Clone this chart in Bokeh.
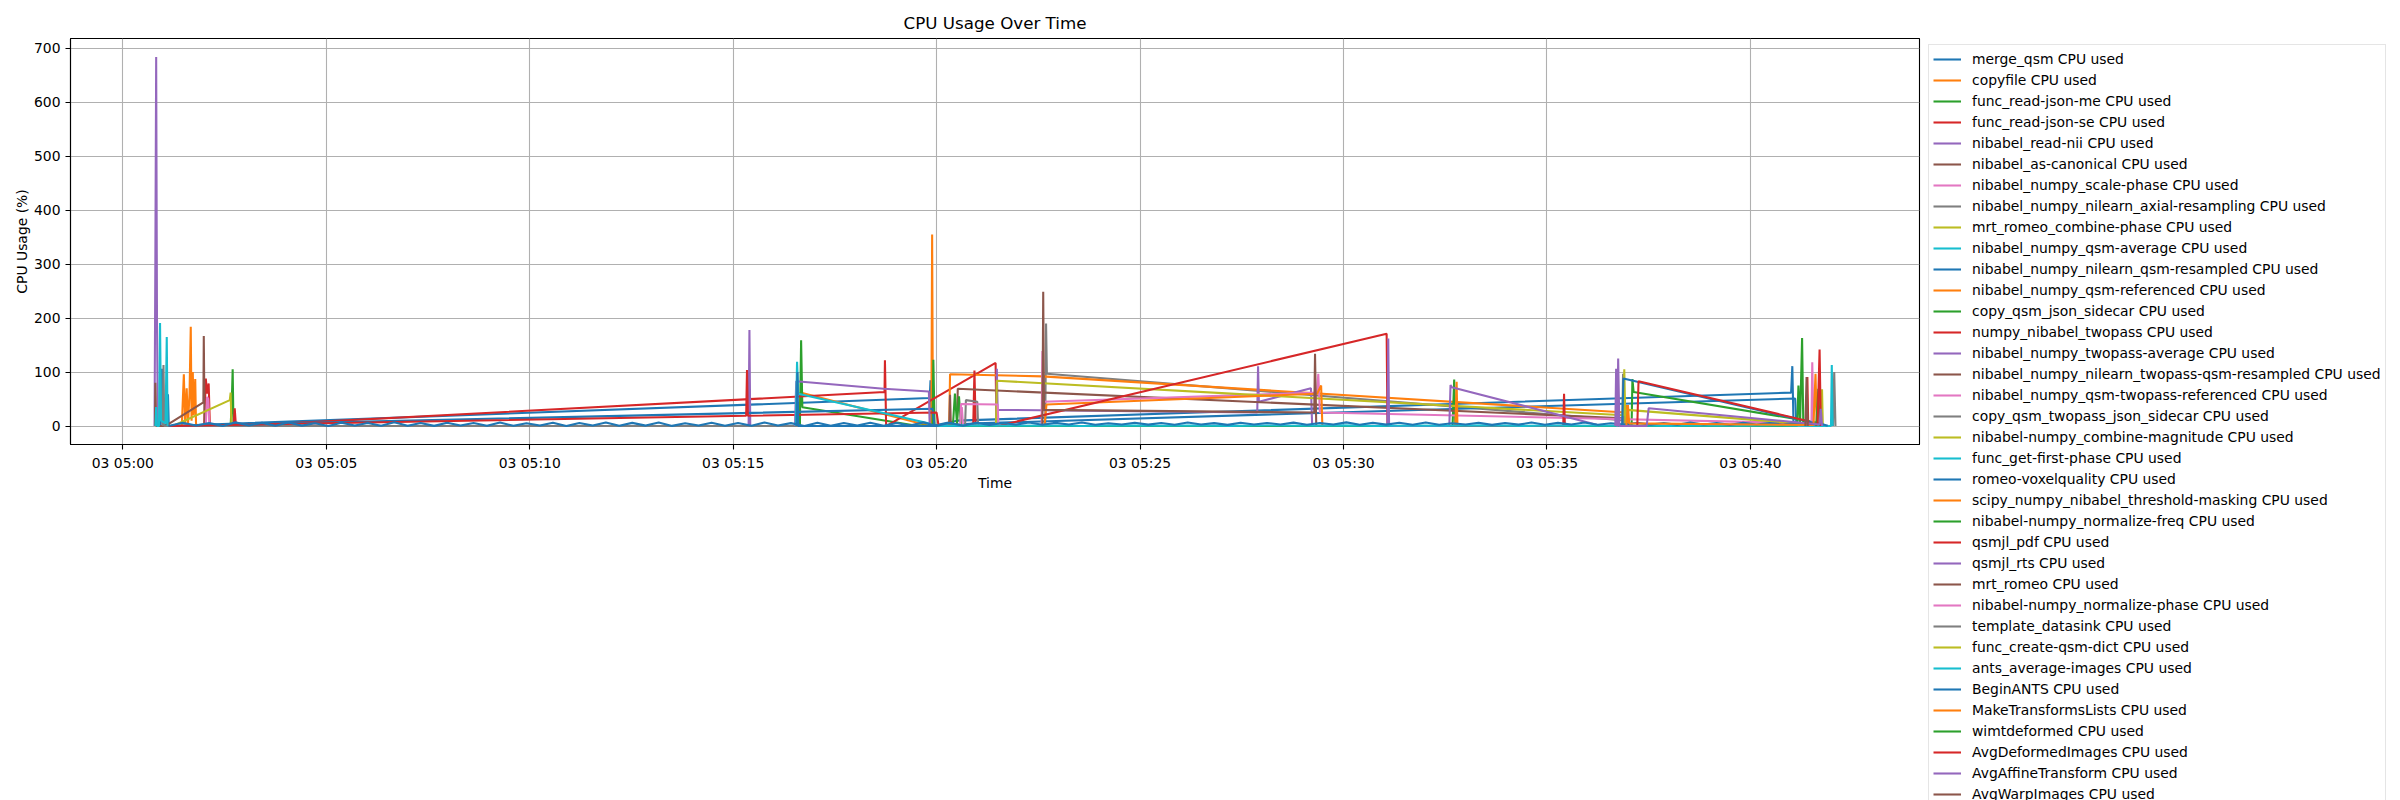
import pandas as pd
from bokeh.plotting import figure
from bokeh.layouts import row, column
from bokeh.models import (Range1d, Legend, LegendItem, FixedTicker,
                          DatetimeTickFormatter, ColumnDataSource)
from bokeh.embed import file_html
from bokeh.resources import INLINE

# ---------------- data ----------------
start_time = "2024-01-03 05:00:00"          # times below are minutes after this
x_tick_times = ["05:00", "05:05", "05:10", "05:15", "05:20",
                "05:25", "05:30", "05:35", "05:40"]
y_ticks = [0, 100, 200, 300, 400, 500, 600, 700]

names = [
    "merge_qsm CPU used", "copyfile CPU used", "func_read-json-me CPU used",
    "func_read-json-se CPU used", "nibabel_read-nii CPU used",
    "nibabel_as-canonical CPU used", "nibabel_numpy_scale-phase CPU used",
    "nibabel_numpy_nilearn_axial-resampling CPU used",
    "mrt_romeo_combine-phase CPU used", "nibabel_numpy_qsm-average CPU used",
    "nibabel_numpy_nilearn_qsm-resampled CPU used",
    "nibabel_numpy_qsm-referenced CPU used", "copy_qsm_json_sidecar CPU used",
    "numpy_nibabel_twopass CPU used", "nibabel_numpy_twopass-average CPU used",
    "nibabel_numpy_nilearn_twopass-qsm-resampled CPU used",
    "nibabel_numpy_qsm-twopass-referenced CPU used",
    "copy_qsm_twopass_json_sidecar CPU used",
    "nibabel-numpy_combine-magnitude CPU used", "func_get-first-phase CPU used",
    "romeo-voxelquality CPU used",
    "scipy_numpy_nibabel_threshold-masking CPU used",
    "nibabel-numpy_normalize-freq CPU used", "qsmjl_pdf CPU used",
    "qsmjl_rts CPU used", "mrt_romeo CPU used",
    "nibabel-numpy_normalize-phase CPU used", "template_datasink CPU used",
    "func_create-qsm-dict CPU used", "ants_average-images CPU used",
    "BeginANTS CPU used", "MakeTransformsLists CPU used",
    "wimtdeformed CPU used", "AvgDeformedImages CPU used",
    "AvgAffineTransform CPU used", "AvgWarpImages CPU used",
]

merge_qsm_t = [0.93, 0.96, 0.99, 1.09, 1.11, 1.13, 19.83, 19.85, 19.88, 20.5, 41.0, 41.03, 41.06]
merge_qsm_v = [0, 106, 2, 3, 59, 0, 52, 85, 0, 10, 62, 111, 0]

copyfile_t = [1.45, 1.5, 1.53, 1.57, 1.6, 1.64, 1.67, 1.69, 1.72, 1.74, 1.78, 1.8,
              16.62, 16.65, 19.75, 19.87, 19.89, 19.91]
copyfile_v = [0, 96, 5, 70, 0, 60, 184, 10, 100, 20, 87, 0, 0, 62, 2, 0, 355, 0]

json_me_t = [2.65, 2.68, 2.7, 2.72, 16.64, 16.67, 16.7, 19.4, 19.9, 19.92, 19.95]
json_me_v = [0, 50, 105, 0, 0, 159, 35, 2, 0, 123, 0]

json_se_t = [2.0, 2.04, 2.07, 2.11, 2.14, 2.72, 2.75, 2.78, 18.72, 18.73, 18.76, 21.45, 21.47]
json_se_v = [0, 88, 60, 79, 0, 0, 33, 0, 63, 122, 0, 117, 0]

read_nii_t = [0.78, 0.8, 0.82, 0.84, 0.86, 15.38, 15.4, 15.42]
read_nii_v = [0, 310, 684, 200, 0, 0, 178, 0]

as_canonical_t = [0.79, 0.8, 0.82, 1.04, 1.98, 1.99, 2.01]
as_canonical_v = [0, 80, 0, 0, 44, 167, 0]

scale_phase_t = [2.04, 2.07, 2.1, 2.13]
scale_phase_v = [0, 54, 50, 0]

axial_resampling_t = [0.98, 1.0, 1.02, 22.67, 22.69, 22.71, 37.0, 37.02]
axial_resampling_v = [0, 113, 0, 0, 190, 97, 10, 0]

combine_phase_t = [1.23, 2.63, 2.65, 2.67]
combine_phase_v = [0, 48, 62, 0]

qsm_average_t = [0.8, 0.82, 0.84, 0.89, 0.915, 0.94, 1.05, 1.08, 1.1]
qsm_average_v = [0, 35, 0, 0, 191, 10, 5, 165, 0]

qsm_resampled_t = [1.12, 19.9, 19.95, 21.0, 41.1, 41.13]
qsm_resampled_v = [0, 32, 0, 5, 51, 0]

qsm_referenced_t = [20.31, 20.33, 22.6, 36.93, 36.95, 36.97]
qsm_referenced_v = [0, 96, 92, 25, 39, 0]

json_sidecar_t = [32.68, 32.72, 32.75, 37.08, 37.1, 37.13, 41.6, 41.65]
json_sidecar_v = [0, 86, 0, 0, 87, 63, 7, 0]

twopass_t = [1.15, 15.32, 15.34, 15.36, 20.0, 20.05, 20.9, 20.93, 20.96]
twopass_v = [0, 19, 104, 19, 25, 0, 0, 103, 0]

twopass_average_t = [16.52, 16.55, 18.7, 19.81, 19.83, 21.46, 21.48, 21.5,
                     27.88, 27.9, 27.92, 29.2, 29.23]
twopass_average_v = [0, 83, 69, 64, 0, 0, 106, 30, 25, 111, 45, 70, 0]

twopass_resampled_t = [20.31, 20.33, 20.35, 20.5, 20.52, 37.0, 37.03]
twopass_resampled_v = [0, 58, 0, 0, 69, 14, 0]

twopass_referenced_t = [20.6, 20.62, 20.65, 22.58, 22.6, 22.63, 29.35, 29.38, 29.42,
                        41.5, 41.52, 41.55]
twopass_referenced_v = [0, 35, 0, 0, 139, 45, 62, 97, 25, 5, 118, 0]

twopass_sidecar_t = [20.7, 20.72, 21.0, 21.02, 36.85, 36.87, 36.9]
twopass_sidecar_v = [0, 48, 45, 0, 0, 97, 0]

combine_magnitude_t = [21.46, 21.48, 36.88, 36.9, 36.93]
combine_magnitude_v = [0, 84, 20, 105, 0]

first_phase_t = [16.54, 16.57, 16.6, 19.8, 19.83]
first_phase_v = [0, 119, 60, 5, 0]

voxelquality_t = [16.56, 16.58, 16.6, 36.85, 36.88, 41.6, 41.7]
voxelquality_v = [0, 100, 0, 0, 88, 5, 0]

threshold_masking_t = [22.65, 22.7, 29.35, 29.45, 29.48, 32.75, 32.78, 32.8]
threshold_masking_v = [0, 40, 60, 75, 0, 0, 82, 0]

normalize_freq_t = [20.4, 20.45, 20.5, 20.55, 20.6, 41.15, 41.18, 41.22, 41.27, 41.3]
normalize_freq_v = [0, 60, 5, 55, 0, 0, 75, 5, 163, 0]

qsmjl_pdf_t = [21.5, 31.06, 31.08, 35.4, 35.42, 35.44]
qsmjl_pdf_v = [0, 171, 0, 0, 60, 0]

qsmjl_rts_t = [31.08, 31.1, 31.12, 32.6, 32.63, 32.66, 36.2, 36.25]
qsmjl_rts_v = [0, 162, 0, 0, 76, 72, 3, 0]

mrt_romeo_t = [22.6, 22.62, 22.64, 29.28, 29.3, 29.33]
mrt_romeo_v = [0, 249, 30, 25, 134, 0]

normalize_phase_t = [20.58, 20.6, 21.5, 21.52]
normalize_phase_v = [0, 41, 40, 0]

datasink_t = [42.03, 42.06, 42.09]
datasink_v = [0, 100, 0]

create_qsm_dict_t = [36.95, 36.97, 41.7, 41.76, 41.78]
create_qsm_dict_v = [0, 30, 2, 68, 0]

ants_average_t = [20.0, 20.9, 21.8, 22.7, 23.6, 24.5, 25.4, 26.3, 27.2, 28.1,
                  29.0, 29.9, 30.8, 31.7, 32.6, 33.5, 34.4, 35.3, 36.2, 37.1,
                  38.0, 38.9, 39.8, 40.7, 41.6, 41.98, 42.0, 42.02]
ants_average_v = [0.3, 1.2, 0.4, 1.0, 0.2, 1.3, 0.5, 0.9, 0.3, 1.1,
                  0.4, 1.2, 0.2, 1.0, 0.5, 1.3, 0.3, 0.9, 0.4, 1.1,
                  0.2, 1.2, 0.5, 1.0, 0.3, 0.0, 113, 0.0]

begin_ants_t = [1.15, 1.47, 1.8, 2.12, 2.45, 2.77, 3.1, 3.42, 3.75, 4.07, 4.4, 4.72, 5.05, 5.37, 5.7, 6.02,
                6.35, 6.67, 7.0, 7.32, 7.65, 7.97, 8.3, 8.62, 8.95, 9.27, 9.6, 9.92, 10.25, 10.57, 10.9, 11.22,
                11.55, 11.87, 12.2, 12.52, 12.85, 13.17, 13.5, 13.82, 14.15, 14.47, 14.8, 15.12, 15.45, 15.77, 16.1, 16.42,
                16.75, 17.07, 17.4, 17.72, 18.05, 18.37, 18.7, 19.02, 19.35, 19.67, 20.0, 20.32, 20.65, 20.97, 21.3, 21.62,
                21.95, 22.27, 22.6, 22.92, 23.25, 23.57, 23.9, 24.22, 24.55, 24.87, 25.2, 25.52, 25.85, 26.17, 26.5, 26.82,
                27.15, 27.47, 27.8, 28.12, 28.45, 28.77, 29.1, 29.42, 29.75, 30.07, 30.4, 30.72, 31.05, 31.37, 31.7, 32.02,
                32.35, 32.67, 33.0, 33.32, 33.65, 33.97, 34.3, 34.62, 34.95, 35.27, 35.6, 35.92, 36.25, 36.57, 36.9, 37.22,
                37.55, 37.87, 38.2, 38.52, 38.85, 39.17, 39.5, 39.82, 40.15, 40.47, 40.8, 41.12, 41.45, 41.67, 41.9]
begin_ants_v = [0.6, 6.2, 0.9, 5.4, 0.3, 6.8, 1.1, 5.9, 0.4, 6.5, 0.8, 5.2, 0.2, 6.1, 1.0, 5.7,
                0.5, 6.9, 0.7, 5.5, 0.3, 6.3, 1.2, 5.8, 0.6, 6.6, 0.4, 5.3, 0.9, 6.0, 0.2, 5.6,
                1.0, 6.4, 0.5, 5.9, 0.8, 6.7, 0.3, 5.1, 1.1, 6.2, 0.6, 5.8, 0.4, 6.5, 0.9, 5.4,
                0.2, 6.0, 0.7, 5.7, 1.0, 6.3, 0.5, 5.5, 0.8, 6.8, 0.3, 5.9, 0.6, 6.1, 2.2, 5.6,
                2.6, 6.4, 2.5, 5.9, 2.8, 6.7, 2.3, 5.1, 2.7, 6.2, 2.6, 5.8, 2.4, 6.5, 2.9, 5.4,
                2.2, 6.0, 2.7, 5.7, 3.0, 6.3, 2.5, 5.5, 2.8, 6.8, 2.3, 5.9, 2.6, 6.1, 2.4, 6.6,
                2.5, 5.3, 2.9, 6.0, 2.2, 5.6, 2.6, 6.4, 2.5, 5.9, 2.8, 6.7, 2.3, 5.1, 2.7, 6.2,
                2.6, 5.8, 2.4, 6.5, 2.9, 5.4, 2.2, 6.0, 2.7, 5.7, 3.0, 6.3, 2.5, 5.5, 0.5]

make_transforms_t = [36.95, 36.99, 37.02, 41.55, 41.6, 41.63]
make_transforms_v = [0, 39, 5, 2, 97, 0]

wimtdeformed_t = [41.62, 41.67, 41.7]
wimtdeformed_v = [0, 69, 0]

avg_deformed_t = [37.22, 37.25, 41.38, 41.4, 41.42, 41.65, 41.7, 41.73]
avg_deformed_v = [0, 83, 10, 91, 5, 3, 142, 0]

avg_affine_t = [36.68, 36.7, 36.72, 36.73, 36.75, 36.78, 37.45, 37.5, 41.7, 41.73, 41.76]
avg_affine_v = [0, 106, 0, 0, 125, 0, 0, 33, 3, 32, 0]

avg_warp_t = [41.35, 41.38, 41.41]
avg_warp_v = [0, 91, 0]

series = [
    (merge_qsm_t, merge_qsm_v), (copyfile_t, copyfile_v), (json_me_t, json_me_v),
    (json_se_t, json_se_v), (read_nii_t, read_nii_v), (as_canonical_t, as_canonical_v),
    (scale_phase_t, scale_phase_v), (axial_resampling_t, axial_resampling_v),
    (combine_phase_t, combine_phase_v), (qsm_average_t, qsm_average_v),
    (qsm_resampled_t, qsm_resampled_v), (qsm_referenced_t, qsm_referenced_v),
    (json_sidecar_t, json_sidecar_v), (twopass_t, twopass_v),
    (twopass_average_t, twopass_average_v), (twopass_resampled_t, twopass_resampled_v),
    (twopass_referenced_t, twopass_referenced_v), (twopass_sidecar_t, twopass_sidecar_v),
    (combine_magnitude_t, combine_magnitude_v), (first_phase_t, first_phase_v),
    (voxelquality_t, voxelquality_v), (threshold_masking_t, threshold_masking_v),
    (normalize_freq_t, normalize_freq_v), (qsmjl_pdf_t, qsmjl_pdf_v),
    (qsmjl_rts_t, qsmjl_rts_v), (mrt_romeo_t, mrt_romeo_v),
    (normalize_phase_t, normalize_phase_v), (datasink_t, datasink_v),
    (create_qsm_dict_t, create_qsm_dict_v), (ants_average_t, ants_average_v),
    (begin_ants_t, begin_ants_v), (make_transforms_t, make_transforms_v),
    (wimtdeformed_t, wimtdeformed_v), (avg_deformed_t, avg_deformed_v),
    (avg_affine_t, avg_affine_v), (avg_warp_t, avg_warp_v),
]

palette = ["#1f77b4", "#ff7f0e", "#2ca02c", "#d62728", "#9467bd",
           "#8c564b", "#e377c2", "#7f7f7f", "#bcbd22", "#17becf"]

# ---------------- figure ----------------
base = pd.Timestamp(start_time)
day = start_time.split(" ")[0]


def to_time(mins):
    return [base + pd.Timedelta(minutes=m) for m in mins]


all_t = [m for t, _ in series for m in t]
all_v = [y for _, v in series for y in v]
t_lo, t_hi = min(all_t), max(all_t)
t_pad = 0.05 * (t_hi - t_lo)
v_lo, v_hi = min(all_v), max(all_v)
v_pad = 0.05 * (v_hi - v_lo)

W, H = 2400, 800
MAIN_W = 1928                      # frame spans 70..1919, legend panel to the right
B_LEFT, B_RIGHT, B_TOP, B_BOTTOM = 70, 9, 38, 356

font = "DejaVu Sans"
p = figure(width=MAIN_W, height=H, x_axis_type="datetime",
           x_range=Range1d(base + pd.Timedelta(minutes=t_lo - t_pad),
                           base + pd.Timedelta(minutes=t_hi + t_pad)),
           y_range=Range1d(v_lo - v_pad, v_hi + v_pad),
           output_backend="svg", toolbar_location=None,
           title="CPU Usage Over Time",
           min_border_left=B_LEFT, min_border_right=B_RIGHT,
           min_border_top=B_TOP, min_border_bottom=B_BOTTOM)

p.background_fill_color = "white"
p.border_fill_color = "white"
p.outline_line_color = "black"
p.outline_line_width = 1.1

p.title.align = "center"
p.title.text_font = font
p.title.text_font_size = "16.7px"
p.title.text_font_style = "normal"
p.title.text_color = "black"
p.title.standoff = 11

x_ticks = [pd.Timestamp(day + " " + s).value // 10**6 for s in x_tick_times]
p.xaxis.ticker = FixedTicker(ticks=x_ticks)
fmt = "%d %H:%M"
p.xaxis.formatter = DatetimeTickFormatter(seconds=fmt, minsec=fmt, minutes=fmt,
                                          hourmin=fmt, hours=fmt, days=fmt)
p.yaxis.ticker = FixedTicker(ticks=y_ticks)
p.xaxis.axis_label = "Time"
p.yaxis.axis_label = "CPU Usage (%)"

for ax in (p.xaxis, p.yaxis):
    ax.axis_label_text_font = font
    ax.axis_label_text_font_size = "13.9px"
    ax.axis_label_text_font_style = "normal"
    ax.axis_label_text_color = "black"
    ax.major_label_text_font = font
    ax.major_label_text_font_size = "13.9px"
    ax.major_label_text_color = "black"
    ax.axis_line_color = "black"
    ax.axis_line_width = 1.1
    ax.major_tick_line_color = "black"
    ax.major_tick_line_width = 1.1
    ax.major_tick_out = 5
    ax.major_tick_in = 0
    ax.minor_tick_line_color = None
    ax.major_label_standoff = 5
    ax.axis_label_standoff = 1

p.grid.grid_line_color = "#b0b0b0"
p.grid.grid_line_width = 1.1

for i, (t, v) in enumerate(series):
    src = ColumnDataSource(dict(x=to_time(t), y=v))
    p.line("x", "y", source=src, line_color=palette[i % 10], line_width=2.08)

# ---------------- legend panel (overflows the bottom, as in the original) ----------------
lp = figure(width=W - MAIN_W, height=H, output_backend="svg", toolbar_location=None,
            x_range=Range1d(0, 1), y_range=Range1d(0, 1),
            x_axis_location=None, y_axis_location=None,
            min_border_left=0, min_border_right=0,
            min_border_top=44, min_border_bottom=0)
lp.grid.visible = False
lp.outline_line_color = None
lp.background_fill_color = "white"
lp.border_fill_color = "white"

nan = float("nan")
items = []
for i, name in enumerate(names):
    key = lp.line(x=[nan], y=[nan], line_color=palette[i % 10], line_width=2.08)
    items.append(LegendItem(label=name, renderers=[key]))

legend = Legend(items=items, location="top_left",
                label_text_font=font, label_text_font_size="13.9px",
                label_text_color="black",
                glyph_width=28, glyph_height=20, label_height=20,
                label_standoff=11, spacing=1, padding=4, margin=0,
                border_line_color="#cccccc", border_line_width=1,
                background_fill_color="white", background_fill_alpha=0.8)
lp.add_layout(legend, "center")

layout = row(column(p), column(lp), spacing=0)
open("out.html", "w").write(file_html(layout, INLINE))
